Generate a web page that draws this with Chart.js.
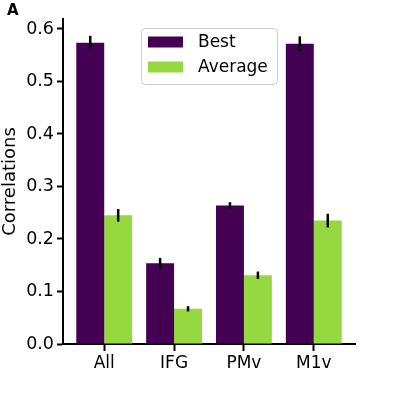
<!DOCTYPE html>
<html>
<head>
<meta charset="utf-8">
<script src="https://cdn.jsdelivr.net/npm/chart.js@4.4.0/dist/chart.umd.min.js"></script>
<style>
body{margin:0;background:#fff}
#caixa{width:397px;height:397px}
</style>
</head>
<body>
<div id="caixa"><canvas id="grafico" width="397" height="397"></canvas></div>
<script>
var categorias = ["All", "IFG", "PMv", "M1v"];
var melhor = [0.574, 0.154, 0.264, 0.572];
var melhorErro = [0.013, 0.010, 0.006, 0.014];
var media = [0.245, 0.067, 0.131, 0.235];
var mediaErro = [0.012, 0.005, 0.007, 0.013];
var yTicks = [0, 0.1, 0.2, 0.3, 0.4, 0.5, 0.6];

var fonte = "DejaVu Sans";

function pontos(valores){
    return valores.map(function(v, i){ return {x: i, y: v}; });
}

// barras de erro pretas em cima de cada barra
var barrasErro = {
    id: "barrasErro",
    afterDatasetsDraw: function(chart){
        var ctx = chart.ctx;
        var y = chart.scales.y;
        chart.data.datasets.forEach(function(ds, i){
            var meta = chart.getDatasetMeta(i);
            meta.data.forEach(function(barra, j){
                var v = ds.data[j].y, e = ds.erros[j];
                ctx.save();
                ctx.strokeStyle = "#000";
                ctx.lineWidth = 2.5;
                ctx.beginPath();
                ctx.moveTo(barra.x, y.getPixelForValue(v - e));
                ctx.lineTo(barra.x, y.getPixelForValue(v + e));
                ctx.stroke();
                ctx.restore();
            });
        });
    }
};

// legenda dentro do grafico + letra do painel
var legendaDentro = {
    id: "legendaDentro",
    afterDraw: function(chart){
        var ctx = chart.ctx;
        ctx.save();
        ctx.font = "bold 15px '" + fonte + "'";
        ctx.fillStyle = "#000";
        ctx.textBaseline = "top";
        ctx.fillText("A", 7, 4);

        var x0 = 141, y0 = 28, w = 136, h = 56;
        ctx.fillStyle = "rgba(255,255,255,0.8)";
        ctx.strokeStyle = "#cccccc";
        ctx.lineWidth = 1;
        ctx.beginPath();
        ctx.roundRect(x0 + 0.5, y0 + 0.5, w, h, 4);
        ctx.fill();
        ctx.stroke();

        ctx.font = "17px '" + fonte + "'";
        ctx.textBaseline = "middle";
        chart.data.datasets.forEach(function(ds, i){
            var yy = y0 + 14 + i * 25;
            ctx.fillStyle = ds.backgroundColor;
            ctx.fillRect(x0 + 7, yy - 5.5, 35, 11);
            ctx.fillStyle = "#000";
            ctx.fillText(ds.label, x0 + 57, yy + 1);
        });
        ctx.restore();
    }
};

var grafico = new Chart(document.getElementById("grafico"), {
    type: "bar",
    data: {
        datasets: [
            {label: "Best", data: pontos(melhor), erros: melhorErro, backgroundColor: "#440154"},
            {label: "Average", data: pontos(media), erros: mediaErro, backgroundColor: "#95d840"}
        ]
    },
    options: {
        responsive: false,
        animation: false,
        devicePixelRatio: 1,
        layout: {padding: {top: 19, right: 42, left: 0, bottom: 0}},
        datasets: {bar: {barPercentage: 1, categoryPercentage: 0.8}},
        plugins: {legend: {display: false}, tooltip: {enabled: false}},
        scales: {
            x: {
                type: "linear",
                min: -0.59,
                max: 3.59,
                offset: false,
                afterBuildTicks: function(s){
                    s.ticks = categorias.map(function(c, i){ return {value: i}; });
                },
                afterFit: function(s){ s.height = 53; },
                ticks: {
                    color: "#000",
                    font: {family: fonte, size: 17},
                    padding: 2,
                    autoSkip: false,
                    maxRotation: 0,
                    callback: function(v){ return categorias[v]; }
                },
                grid: {offset: false, drawOnChartArea: false, drawTicks: true, tickLength: 7, tickWidth: 2, tickColor: "#000"},
                border: {display: true, color: "#000", width: 2}
            },
            y: {
                min: 0,
                max: 0.619,
                afterBuildTicks: function(s){
                    s.ticks = yTicks.map(function(v){ return {value: v}; });
                },
                afterFit: function(s){ s.width = 63; },
                ticks: {
                    color: "#000",
                    font: {family: fonte, size: 17.5},
                    padding: 3,
                    callback: function(v){ return v.toFixed(1); }
                },
                grid: {drawOnChartArea: false, drawTicks: true, tickLength: 6, tickWidth: 2, tickColor: "#000"},
                border: {display: true, color: "#000", width: 2},
                title: {display: true, text: "Correlations", color: "#000", font: {family: fonte, size: 18}, padding: {top: 0, bottom: 0}}
            }
        }
    },
    plugins: [barrasErro, legendaDentro]
});
</script>
</body>
</html>
